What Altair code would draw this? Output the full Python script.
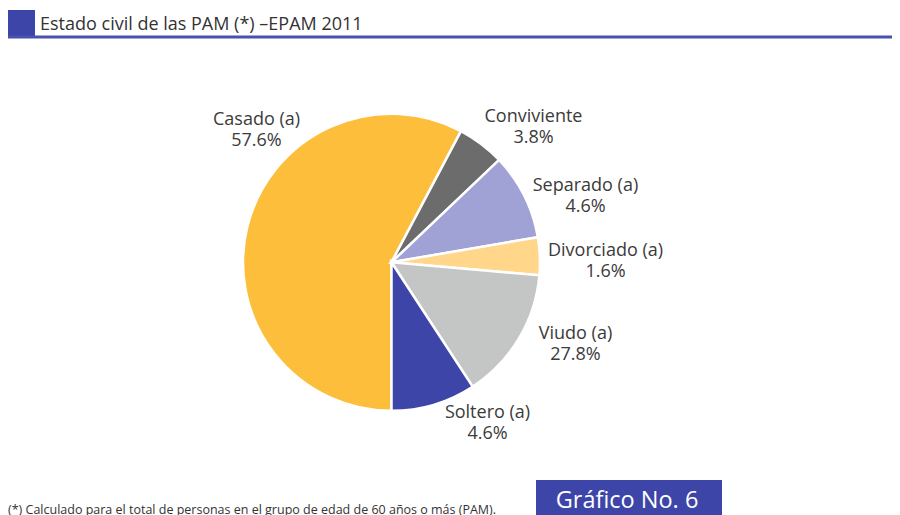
import math
import altair as alt
import pandas as pd

# ---- data ----
categories = ["Casado (a)", "Conviviente", "Separado (a)", "Divorciado (a)", "Viudo (a)", "Soltero (a)"]
# slice shares as drawn in the picture (%)
slice_share = [57.75, 5.15, 9.4, 4.1, 14.4, 9.2]
# percentages printed in the labels
label_pct = ["57.6%", "3.8%", "4.6%", "1.6%", "27.8%", "4.6%"]
colors = ["#FDBE3B", "#6C6C6C", "#A0A2D6", "#FFD68A", "#C4C6C5", "#3D45A9"]

title_text = "Estado civil de las PAM (*) \u2013EPAM 2011"
footnote_text = "(*) Calculado para el total de personas en el grupo de edad de 60 a\u00f1os o m\u00e1s (PAM)."
badge_text = "Gr\u00e1fico No. 6"

# ---- layout (pixels, chart coordinates) ----
W, H = 884, 507
CX, CY, R = 383.5, 254.3, 148.5
# first-line centres of label blocks relative to pie centre
label_off = [(-135, -142), (142, -145), (194, -76), (214, -11), (184, 72), (96, 151)]

df = pd.DataFrame({
    "cat": categories,
    "share": slice_share,
    "order": list(range(len(categories))),
    "label": [f"{c}\n{p}" for c, p in zip(categories, label_pct)],
    "lx": [CX + o[0] for o in label_off],
    "ly": [CY + o[1] for o in label_off],
})

color_scale = alt.Scale(domain=categories, range=colors)

pie = alt.Chart(df).mark_arc(outerRadius=R, stroke="white", strokeWidth=2.5).encode(
    theta=alt.Theta("share:Q", stack=True, scale=alt.Scale(range=[math.pi, 3 * math.pi])),
    order=alt.Order("order:Q"),
    color=alt.Color("cat:N", scale=color_scale, legend=None),
    x=alt.value(CX),
    y=alt.value(CY),
)

labels = alt.Chart(df).mark_text(
    fontSize=18, font="Open Sans", color="#3B3B3B", lineBreak="\n", lineHeight=21,
    align="center", baseline="middle",
).encode(
    x=alt.X("lx:Q", scale=None),
    y=alt.Y("ly:Q", scale=None),
    text="label:N",
)

base = alt.Chart(pd.DataFrame({"a": [0]}))

square = base.mark_rect(color="#3D45A9").encode(
    x=alt.value(0), x2=alt.value(27), y=alt.value(2), y2=alt.value(28)
)
hline = base.mark_rule(color="#4850B0", strokeWidth=3).encode(
    x=alt.value(0), x2=alt.value(W), y=alt.value(29)
)
title = base.mark_text(
    text=title_text, fontSize=18, font="Open Sans", color="#333333", align="left", baseline="alphabetic"
).encode(x=alt.value(32), y=alt.value(22))

foot = base.mark_text(
    text=footnote_text, fontSize=12.5, font="Open Sans", color="#333333", align="left", baseline="alphabetic"
).encode(x=alt.value(0), y=alt.value(506))

badge = base.mark_rect(color="#3D45A9").encode(
    x=alt.value(528), x2=alt.value(714), y=alt.value(472), y2=alt.value(H)
)
badge_t = base.mark_text(
    text=badge_text, fontSize=23.5, font="Open Sans", color="white", align="center", baseline="alphabetic"
).encode(x=alt.value(619), y=alt.value(500))

chart = alt.layer(square, hline, title, pie, labels, foot, badge, badge_t).properties(
    width=W, height=H, autosize=alt.AutoSizeParams(type="none"), padding=0
).configure_view(stroke=None)

chart.save("out.html", embed_options={"renderer": "svg", "actions": False})
